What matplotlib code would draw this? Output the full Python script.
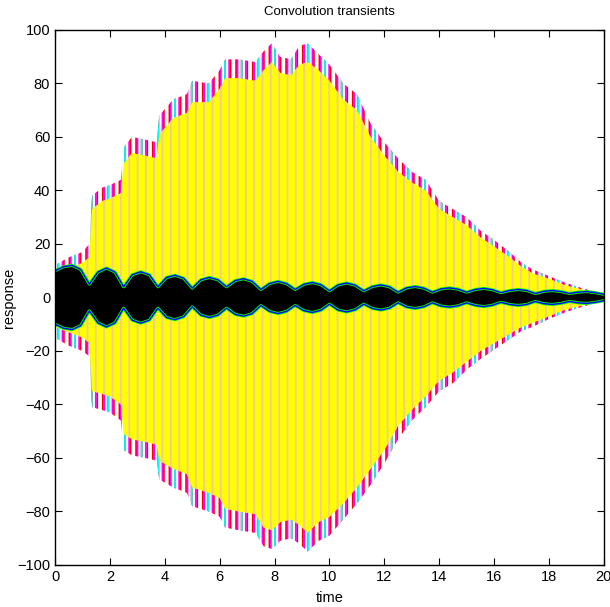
import numpy as np
import matplotlib
matplotlib.use('Agg')
import matplotlib.pyplot as plt

plt.rcParams['font.family'] = ['Liberation Sans', 'DejaVu Sans']
plt.rcParams['hatch.linewidth'] = 1.3

# envelope knots (time, response)
t_env = [0, 0.5, 1.0, 1.25, 1.35, 1.7, 2.0, 2.4, 2.5, 2.8, 3.3, 3.7, 3.8, 4.3, 4.8, 5.0, 5.6,
         6.0, 6.2, 6.7, 7.3, 7.6, 7.9, 8.2, 8.6, 8.9, 9.2, 9.6, 10.0, 10.5, 11.0, 11.5, 12.0,
         12.5, 13.0, 13.5, 14.0, 14.5, 15.0, 15.5, 16.0, 16.5, 17.0, 17.4, 18.0, 18.6, 19.2,
         19.7, 20]
# outer tips (magenta / cyan / red transients)
tips_top = [12, 15, 17, 20, 38, 41, 42, 44, 56, 60, 59, 58, 68, 74, 76, 81, 80,
            85, 89, 89, 88, 92, 95, 90, 89, 94, 95, 91, 87, 80, 76, 65, 58,
            52, 47, 44, 36, 33, 30, 25, 21.5, 17.5, 13, 10.5, 8, 5.5, 3.5,
            2, 1.5]
tips_bot = [-15, -18, -20, -22, -41, -42, -43, -46, -57, -59, -60, -61, -68, -71, -73, -78, -80,
            -82, -86, -87, -88, -93, -94, -91, -90, -92, -95, -91, -89, -83, -77, -70, -62,
            -53, -46, -41, -35, -32, -27, -23, -19.5, -16, -12.5, -11, -8, -5.5, -3.5,
            -2, -1.5]
# solid yellow transient
yel_top = [9, 11, 13, 15, 33, 36, 37, 39, 50, 54, 53, 52, 61, 67, 69, 73, 73,
           78, 82, 82, 81, 85, 88, 84, 83, 87, 88, 85, 81, 74, 70, 60, 53,
           47, 43, 40, 33, 30, 27, 22.5, 19, 15.5, 11.5, 9, 7, 4.5, 3,
           1.7, 1.2]
yel_bot = [-11, -13, -15, -17, -35, -36, -37, -40, -51, -53, -54, -55, -61, -64, -66, -71, -73,
           -75, -79, -80, -81, -86, -87, -84, -83, -85, -88, -84, -82, -77, -71, -64, -57,
           -48, -42, -37, -31, -28, -24, -20, -17, -14, -11, -9.5, -7, -4.5, -3,
           -1.7, -1.2]

# black (steady) response, beating envelope
t_blk = [0, 0.3125, 0.625, 0.9375, 1.25, 1.5625, 1.875, 2.1875, 2.5, 2.8125, 3.125, 3.4375,
         3.75, 4.0625, 4.375, 4.6875, 5.0, 5.3125, 5.625, 5.9375, 6.25, 6.5625, 6.875, 7.1875,
         7.5, 7.8125, 8.125, 8.4375, 8.75, 9.0625, 9.375, 9.6875, 10.0, 10.3125, 10.625, 10.9375,
         11.25, 11.5625, 11.875, 12.1875, 12.5, 12.8125, 13.125, 13.4375, 13.75, 14.0625, 14.375,
         14.6875, 15.0, 15.3125, 15.625, 15.9375, 16.25, 16.5625, 16.875, 17.1875, 17.5, 17.8125,
         18.125, 18.4375, 18.75, 19.0625, 19.375, 19.6875, 20.0]
blk_amp = [10, 11.5, 12, 10.5, 5, 9.5, 11, 9.5, 4, 8.5, 9.6, 8.5,
           4, 7.5, 8.3, 7.2, 3.5, 6.6, 7.5, 6.6, 4, 6.3, 7, 6,
           3, 5.2, 6, 5.2, 3, 4.9, 5.6, 4.8, 2.5, 4.7, 5.4, 4.6,
           2.5, 4.1, 4.7, 4, 2, 3.6, 4.1, 3.5, 2, 3.2, 3.6,
           3.1, 2, 3, 3.4, 2.9, 1.8, 2.6, 3, 2.6, 1.5, 2.3,
           2.6, 2.2, 1.5, 2, 2.2, 1.8, 1.2]

xticks = [0, 2, 4, 6, 8, 10, 12, 14, 16, 18, 20]
yticks = [-100, -80, -60, -40, -20, 0, 20, 40, 60, 80, 100]

fig = plt.figure(figsize=(6.1, 6.07), dpi=100)
ax = fig.add_axes([0.0902, 0.0692, 0.8998, 0.8814])

# colored tips as vertical stripes
ax.fill_between(t_env, tips_bot, tips_top, facecolor='none', edgecolor='red', hatch='|||', linewidth=0)
ax.fill_between(t_env, tips_bot, tips_top, facecolor='none', edgecolor='magenta', hatch='||', linewidth=0)
ax.fill_between(t_env, tips_bot, tips_top, facecolor='none', edgecolor='cyan', hatch='|', linewidth=0)

# yellow bulk with faint orange stripes
ax.fill_between(t_env, yel_bot, yel_top, facecolor='yellow', edgecolor='#f7c98a', hatch='||', linewidth=0)

# black band with green / blue fringes
t_blk = np.array(t_blk)
blk_amp = np.array(blk_amp)
for sgn in (1, -1):
    ax.plot(t_blk, sgn * blk_amp, color='#00ff00', lw=2.2)
    ax.plot(t_blk, sgn * blk_amp, color='blue', lw=1.0)
ax.fill_between(t_blk, -blk_amp, blk_amp, facecolor='black', linewidth=0)

ax.set_xlim(0, 20)
ax.set_ylim(-100, 100)
ax.set_xticks(xticks)
ax.set_yticks(yticks)
ax.tick_params(direction='in', top=True, right=True, length=5, width=0.8, labelsize=10.5)
for s in ax.spines.values():
    s.set_linewidth(1.0)
ax.set_title('Convolution transients', fontsize=9.5, pad=11)
ax.set_xlabel('time', fontsize=10.5, labelpad=5)
ax.set_ylabel('response', fontsize=10.5, labelpad=1)

fig.savefig('out.png', dpi=100)
